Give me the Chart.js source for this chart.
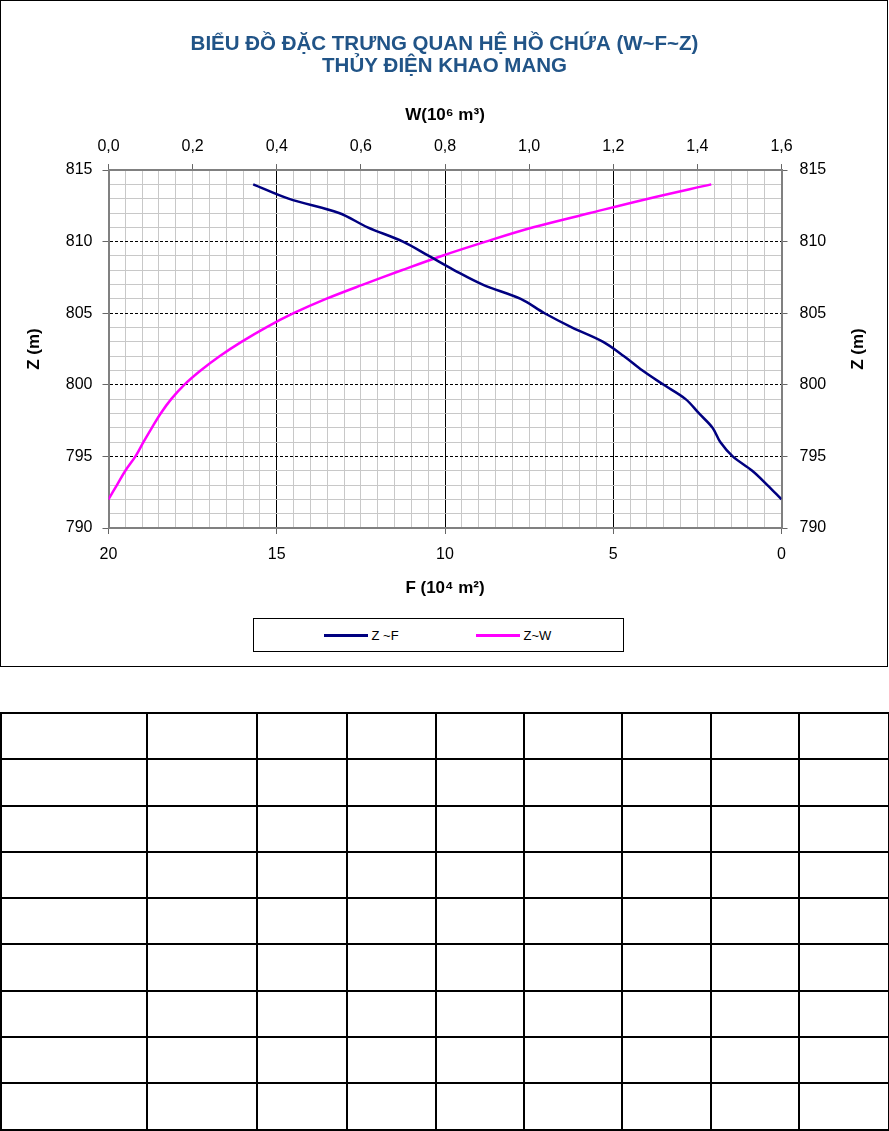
<!DOCTYPE html>
<html>
<head>
<meta charset="utf-8">
<script src="https://cdn.jsdelivr.net/npm/chart.js@4.4.1/dist/chart.umd.min.js"></script>
<style>
  body { margin: 0; background: #fff; font-family: 'Liberation Sans', Arial, sans-serif; }
  .page { position: relative; width: 889px; height: 1131px; }
  .chart-box { position: absolute; left: 0; top: 0; width: 889px; height: 667px; }
  .chart-frame { position: absolute; left: 0; top: 0; width: 888px; height: 667px; box-sizing: border-box; border: 1.5px solid #000; pointer-events: none; }
  .legend { position: absolute; left: 253px; top: 618px; width: 371px; height: 34px; box-sizing: border-box; border: 1.5px solid #000; background: #fff; font-size: 13px; color: #000; }
  .legend-item { position: absolute; top: 0; height: 100%; display: flex; align-items: center; }
  .legend-line { display: inline-block; width: 44px; height: 3px; margin-right: 4px; }
  table.grid-table { position: absolute; left: 0; top: 712px; width: 888px; border-collapse: collapse; table-layout: fixed; }
  table.grid-table td { border: 2px solid #000; padding: 0; }
  table.grid-table tr { height: 46.3px; }
</style>
</head>
<body>
<div class="page">
  <div class="chart-box">
    <canvas id="chart" width="889" height="667"></canvas>
    <div class="legend" id="legend"></div>
    <div class="chart-frame"></div>
  </div>
  <table class="grid-table" id="table"></table>
</div>
<script>
// cao trình mực nước Z (m)
const elevations = [792, 793, 794, 795, 796, 797, 798, 799, 800, 801, 802, 803,
  804, 805, 806, 807, 808, 809, 810, 811, 812, 813, 814];
// diện tích mặt hồ F (10^4 m2)
const areaF = [0, 0.42, 0.87, 1.45, 1.82, 2.05, 2.45, 2.85, 3.5, 4.13, 4.68, 5.3,
  6.22, 7.04, 7.75, 8.88, 9.72, 10.48, 11.25, 12.3, 13.15, 14.65, 15.7];
// dung tích hồ W (10^6 m3)
const volumeW = [0, 0.02, 0.04, 0.064, 0.083, 0.103, 0.124, 0.149, 0.18, 0.219, 0.264, 0.316,
  0.374, 0.44, 0.517, 0.605, 0.697, 0.792, 0.897, 1.01, 1.145, 1.283, 1.433];

const seriesNames = ['Z ~F', 'Z~W'];
const seriesColors = ['#000080', '#ff00ff'];
const titleLines = ['BIỂU ĐỒ ĐẶC TRƯNG QUAN HỆ HỒ CHỨA (W~F~Z)', 'THỦY ĐIỆN KHAO MANG'];
const zTitle = 'Z (m)';
const fTitle = 'F (10⁴ m²)';
const wTitle = 'W(10⁶ m³)';
const tableCols = [146, 110, 90, 89, 88, 98, 89, 88, 90];
const tableRows = 9;

const isMajor = (v, step) => Math.abs(v / step - Math.round(v / step)) < 1e-6;
const fmtComma = (v) => v.toFixed(1).replace('.', ',');

Chart.defaults.font.family = "'Liberation Sans', Arial, sans-serif";
Chart.defaults.color = '#000';

// tiêu đề trục phải quay ngược như bên trái
const rightTitle = {
  id: 'rightTitle',
  afterDraw(chart) {
    const { ctx, chartArea } = chart;
    ctx.save();
    ctx.translate(858, (chartArea.top + chartArea.bottom) / 2);
    ctx.rotate(-Math.PI / 2);
    ctx.font = "bold 17px 'Liberation Sans', Arial, sans-serif";
    ctx.fillStyle = '#000';
    ctx.textAlign = 'center';
    ctx.textBaseline = 'middle';
    ctx.fillText(zTitle, 0, 0);
    ctx.restore();
  },
};

const data = {
  datasets: [
    {
      label: seriesNames[0],
      data: elevations.map((z, i) => ({ x: areaF[i], y: z })),
      xAxisID: 'x',
      yAxisID: 'y',
      borderColor: seriesColors[0],
      borderWidth: 2.5,
      pointRadius: 0,
      tension: 0.35,
      fill: false,
    },
    {
      label: seriesNames[1],
      data: elevations.map((z, i) => ({ x: volumeW[i], y: z })),
      xAxisID: 'w',
      yAxisID: 'y',
      borderColor: seriesColors[1],
      borderWidth: 2.5,
      pointRadius: 0,
      tension: 0.35,
      fill: false,
    },
  ],
};

const tickFont = { size: 16 };
const axisTitleFont = { size: 17, weight: 'bold' };

new Chart(document.getElementById('chart'), {
  type: 'line',
  data,
  plugins: [rightTitle],
  options: {
    responsive: false,
    animation: false,
    layout: { padding: { bottom: 64 } },
    plugins: {
      legend: { display: false },
      tooltip: { enabled: false },
      title: {
        display: true,
        text: titleLines,
        color: '#215487',
        font: { size: 20.5, weight: 'bold', lineHeight: 1.05 },
        padding: { top: 34, bottom: 8 },
      },
    },
    scales: {
      x: {
        type: 'linear',
        position: 'bottom',
        min: 0,
        max: 20,
        reverse: true,
        afterFit: (s) => { s.height = 75; },
        ticks: {
          stepSize: 0.5,
          autoSkip: false,
          maxRotation: 0,
          padding: 11,
          font: tickFont,
          callback: (v) => (isMajor(v, 5) ? String(v) : ''),
        },
        grid: {
          color: (c) => {
            const v = c.tick ? c.tick.value : 0;
            if (v === 0 || v === 20) return '#808080';
            return isMajor(v, 5) ? '#000' : '#c8c8c8';
          },
          lineWidth: 1,
          tickLength: 6,
          tickColor: (c) => (c.tick && isMajor(c.tick.value, 5) ? '#666' : 'rgba(0,0,0,0)'),
        },
        border: { color: '#808080', width: 2 },
        title: { display: true, text: fTitle, font: axisTitleFont, padding: { top: 0, bottom: 4 } },
      },
      w: {
        type: 'linear',
        position: 'top',
        min: 0,
        max: 1.6,
        afterFit: (s) => { s.height = 85; },
        ticks: {
          stepSize: 0.2,
          autoSkip: false,
          maxRotation: 0,
          padding: 8,
          font: tickFont,
          callback: (v) => fmtComma(v),
        },
        grid: { drawOnChartArea: false, tickLength: 6, tickColor: '#666' },
        border: { color: '#808080', width: 2 },
        title: { display: true, text: wTitle, font: axisTitleFont, padding: { top: 20, bottom: 0 } },
      },
      y: {
        type: 'linear',
        position: 'left',
        min: 790,
        max: 815,
        afterFit: (s) => { s.width = 108.5; },
        ticks: {
          stepSize: 1,
          autoSkip: false,
          padding: 10,
          font: tickFont,
          callback: (v) => (isMajor(v, 5) ? String(v) : ''),
        },
        grid: {
          color: (c) => {
            const v = c.tick ? c.tick.value : 790;
            if (v === 790 || v === 815) return '#808080';
            return isMajor(v, 5) ? '#000' : '#c8c8c8';
          },
          lineWidth: 1,
          tickLength: 6,
          tickColor: (c) => (c.tick && isMajor(c.tick.value, 5) ? '#666' : 'rgba(0,0,0,0)'),
        },
        border: {
          color: '#808080',
          width: 2,
          dash: (c) => (c.tick && isMajor(c.tick.value, 5) && c.tick.value !== 790 && c.tick.value !== 815 ? [3, 2] : []),
        },
        title: { display: true, text: zTitle, font: axisTitleFont, padding: { top: 24, bottom: 0 } },
      },
      y2: {
        type: 'linear',
        position: 'right',
        min: 790,
        max: 815,
        afterFit: (s) => { s.width = 107.5; },
        ticks: { stepSize: 5, padding: 12, font: tickFont },
        grid: { drawOnChartArea: false, tickLength: 6, tickColor: '#666' },
        border: { color: '#808080', width: 2 },
      },
    },
  },
});

// chú giải
const legend = document.getElementById('legend');
const legendLeft = [69.5, 221.5];
seriesNames.forEach((name, i) => {
  const item = document.createElement('div');
  item.className = 'legend-item';
  item.style.left = `${legendLeft[i]}px`;
  item.innerHTML = `<span class="legend-line" style="background:${seriesColors[i]}"></span><span>${name}</span>`;
  legend.appendChild(item);
});

// bảng trống bên dưới
const table = document.getElementById('table');
const colgroup = document.createElement('colgroup');
tableCols.forEach((w) => {
  const col = document.createElement('col');
  col.style.width = `${w}px`;
  colgroup.appendChild(col);
});
table.appendChild(colgroup);
for (let r = 0; r < tableRows; r += 1) {
  const tr = document.createElement('tr');
  tableCols.forEach(() => tr.appendChild(document.createElement('td')));
  table.appendChild(tr);
}
</script>
</body>
</html>
